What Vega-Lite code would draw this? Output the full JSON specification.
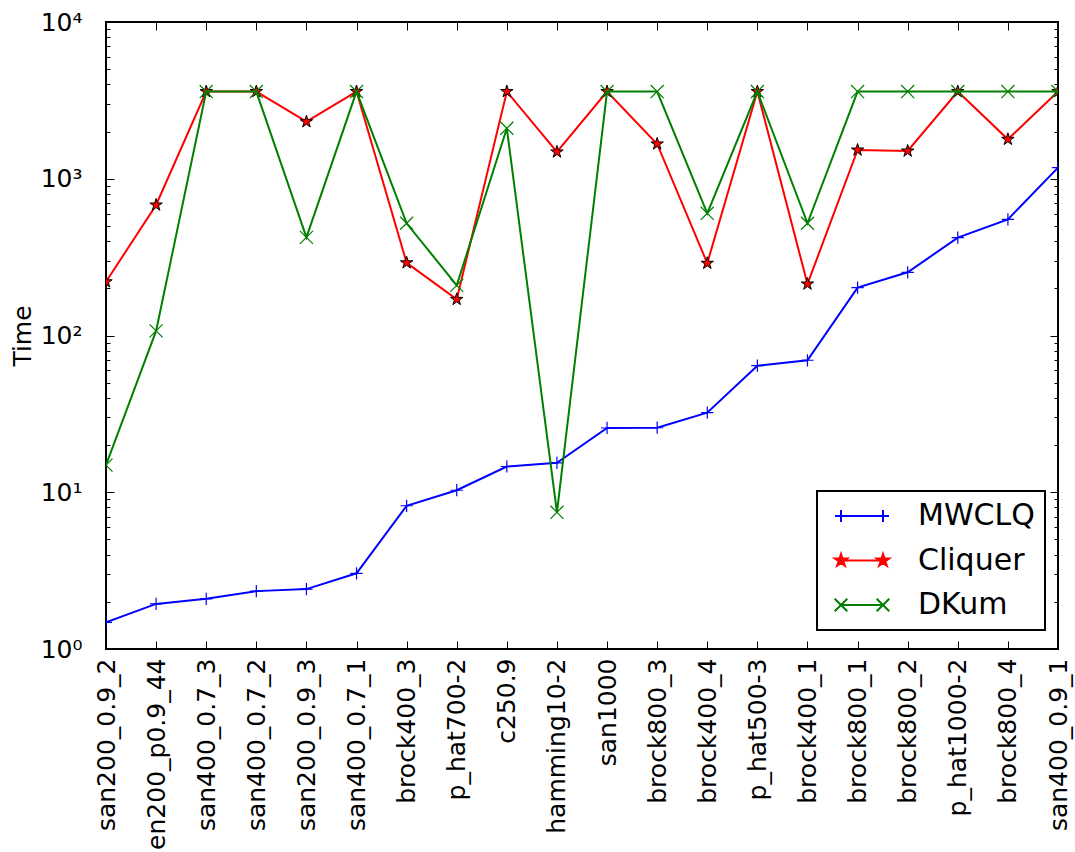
{
  "$schema": "https://vega.github.io/schema/vega-lite/v6.json",
  "autosize": "none",
  "width": 952,
  "height": 627,
  "padding": {"left": 106, "top": 22, "right": 17, "bottom": 203},
  "background": "white",
  "config": {
    "font": "DejaVu Sans",
    "view": {"stroke": "#000000", "strokeWidth": 2},
    "legend": {"strokeWidth": 2},
    "axis": {"domain": false, "grid": false, "tickColor": "#000000", "tickWidth": 1, "labelColor": "#000000", "labelFont": "DejaVu Sans", "titleFont": "DejaVu Sans", "titleColor": "#000000", "titleFontWeight": "normal"}
  },
  "datasets": {
    "times": [
      {"instance": "san200_0.9_2", "series": "MWCLQ", "time": 1.48},
      {"instance": "gen200_p0.9_44", "series": "MWCLQ", "time": 1.94},
      {"instance": "san400_0.7_3", "series": "MWCLQ", "time": 2.09},
      {"instance": "san400_0.7_2", "series": "MWCLQ", "time": 2.34},
      {"instance": "san200_0.9_3", "series": "MWCLQ", "time": 2.41},
      {"instance": "san400_0.7_1", "series": "MWCLQ", "time": 3.04},
      {"instance": "brock400_3", "series": "MWCLQ", "time": 8.2},
      {"instance": "p_hat700-2", "series": "MWCLQ", "time": 10.3},
      {"instance": "c250.9", "series": "MWCLQ", "time": 14.6},
      {"instance": "hamming10-2", "series": "MWCLQ", "time": 15.4},
      {"instance": "san1000", "series": "MWCLQ", "time": 25.7},
      {"instance": "brock800_3", "series": "MWCLQ", "time": 25.8},
      {"instance": "brock400_4", "series": "MWCLQ", "time": 32.2},
      {"instance": "p_hat500-3", "series": "MWCLQ", "time": 64.2},
      {"instance": "brock400_1", "series": "MWCLQ", "time": 69.5},
      {"instance": "brock800_1", "series": "MWCLQ", "time": 202},
      {"instance": "brock800_2", "series": "MWCLQ", "time": 253},
      {"instance": "p_hat1000-2", "series": "MWCLQ", "time": 421},
      {"instance": "brock800_4", "series": "MWCLQ", "time": 551},
      {"instance": "san400_0.9_1", "series": "MWCLQ", "time": 1177},
      {"instance": "san200_0.9_2", "series": "Cliquer", "time": 220},
      {"instance": "gen200_p0.9_44", "series": "Cliquer", "time": 680},
      {"instance": "san400_0.7_3", "series": "Cliquer", "time": 3600},
      {"instance": "san400_0.7_2", "series": "Cliquer", "time": 3600},
      {"instance": "san200_0.9_3", "series": "Cliquer", "time": 2312},
      {"instance": "san400_0.7_1", "series": "Cliquer", "time": 3600},
      {"instance": "brock400_3", "series": "Cliquer", "time": 291},
      {"instance": "p_hat700-2", "series": "Cliquer", "time": 170},
      {"instance": "c250.9", "series": "Cliquer", "time": 3600},
      {"instance": "hamming10-2", "series": "Cliquer", "time": 1482},
      {"instance": "san1000", "series": "Cliquer", "time": 3600},
      {"instance": "brock800_3", "series": "Cliquer", "time": 1667},
      {"instance": "brock400_4", "series": "Cliquer", "time": 289},
      {"instance": "p_hat500-3", "series": "Cliquer", "time": 3600},
      {"instance": "brock400_1", "series": "Cliquer", "time": 213},
      {"instance": "brock800_1", "series": "Cliquer", "time": 1525},
      {"instance": "brock800_2", "series": "Cliquer", "time": 1503},
      {"instance": "p_hat1000-2", "series": "Cliquer", "time": 3600},
      {"instance": "brock800_4", "series": "Cliquer", "time": 1785},
      {"instance": "san400_0.9_1", "series": "Cliquer", "time": 3600},
      {"instance": "san200_0.9_2", "series": "DKum", "time": 14.9},
      {"instance": "gen200_p0.9_44", "series": "DKum", "time": 107},
      {"instance": "san400_0.7_3", "series": "DKum", "time": 3600},
      {"instance": "san400_0.7_2", "series": "DKum", "time": 3600},
      {"instance": "san200_0.9_3", "series": "DKum", "time": 423},
      {"instance": "san400_0.7_1", "series": "DKum", "time": 3600},
      {"instance": "brock400_3", "series": "DKum", "time": 520},
      {"instance": "p_hat700-2", "series": "DKum", "time": 209},
      {"instance": "c250.9", "series": "DKum", "time": 2099},
      {"instance": "hamming10-2", "series": "DKum", "time": 7.45},
      {"instance": "san1000", "series": "DKum", "time": 3600},
      {"instance": "brock800_3", "series": "DKum", "time": 3600},
      {"instance": "brock400_4", "series": "DKum", "time": 602},
      {"instance": "p_hat500-3", "series": "DKum", "time": 3600},
      {"instance": "brock400_1", "series": "DKum", "time": 520},
      {"instance": "brock800_1", "series": "DKum", "time": 3600},
      {"instance": "brock800_2", "series": "DKum", "time": 3600},
      {"instance": "p_hat1000-2", "series": "DKum", "time": 3600},
      {"instance": "brock800_4", "series": "DKum", "time": 3600},
      {"instance": "san400_0.9_1", "series": "DKum", "time": 3600}
    ]
  },
  "data": {"name": "times"},
  "resolve": {"axis": {"x": "independent", "y": "independent"}},
  "layer": [
    {
      "transform": [{"filter": "datum.series === 'MWCLQ'"}],
      "mark": {"type": "line", "strokeWidth": 2, "clip": true},
      "encoding": {
        "x": {"field": "instance", "type": "nominal", "sort": ["san200_0.9_2", "gen200_p0.9_44", "san400_0.7_3", "san400_0.7_2", "san200_0.9_3", "san400_0.7_1", "brock400_3", "p_hat700-2", "c250.9", "hamming10-2", "san1000", "brock800_3", "brock400_4", "p_hat500-3", "brock400_1", "brock800_1", "brock800_2", "p_hat1000-2", "brock800_4", "san400_0.9_1"], "scale": {"type": "point", "padding": 0}, "title": null,
          "axis": {"orient": "bottom", "labelAngle": 270, "labelFontSize": 25, "tickSize": -8, "labelPadding": 17, "labelAlign": "right", "labelBaseline": "middle", "labelOverlap": false, "labelLimit": 0}},
        "y": {"field": "time", "type": "quantitative", "scale": {"type": "log", "domain": [1, 10000], "nice": false}, "title": "Time",
          "axis": {"orient": "left", "values": [1, 10, 100, 1000, 10000], "tickSize": -8, "labelPadding": 32, "labelFontSize": 25, "labelOverlap": false, "labelBound": false, "labelFlush": false,
            "labelExpr": "'10' + (datum.value >= 10000 ? '⁴' : datum.value >= 1000 ? '³' : datum.value >= 100 ? '²' : datum.value >= 10 ? '¹' : '⁰')",
            "titleFontSize": 25, "titleAngle": 270, "titleX": -76, "titleY": 313.5, "titleAlign": "center", "titleBaseline": "alphabetic"}},
        "color": {
          "field": "series", "type": "nominal",
          "scale": {"domain": ["MWCLQ", "Cliquer", "DKum"], "range": ["#0000ff", "#ff0000", "#008000"]},
          "legend": {
            "title": null, "orient": "none", "legendX": 711, "legendY": 469, "zindex": 2,
            "strokeColor": "#000000", "fillColor": "#ffffff", "padding": 10,
            "symbolSize": 784, "symbolStrokeWidth": 2, "symbolOffset": 20,
            "symbolType": {"expr": "datum.value === 'MWCLQ' ? 'M-1.929,0H1.929M-1.5,-0.429V0.429M1.5,-0.429V0.429' : datum.value === 'Cliquer' ? 'M-1.5,0H1.5M-1.5,-0.464L-1.396,-0.143L-1.059,-0.143L-1.332,0.055L-1.227,0.375L-1.5,0.177L-1.773,0.375L-1.668,0.055L-1.941,-0.143L-1.604,-0.143ZM1.5,-0.464L1.604,-0.143L1.941,-0.143L1.668,0.055L1.773,0.375L1.5,0.177L1.227,0.375L1.332,0.055L1.059,-0.143L1.396,-0.143Z' : 'M-1.5,0H1.5M-1.95,-0.45L-1.05,0.45M-1.95,0.45L-1.05,-0.45M1.05,-0.45L1.95,0.45M1.05,0.45L1.95,-0.45'"},
            "symbolFillColor": {"expr": "datum.value === 'Cliquer' ? '#ff0000' : 'transparent'"},
            "labelFontSize": 30, "labelFont": "DejaVu Sans", "labelColor": "#000000", "labelOffset": 41, "rowPadding": 14.5
          }
        }
      }
    },
    {
      "transform": [{"filter": "datum.series === 'MWCLQ'"}],
      "mark": {"type": "point", "shape": "M-1,0H1M0,-1V1", "size": 150, "fill": "transparent", "stroke": "#0000ff", "strokeWidth": 1.2, "opacity": 1, "clip": true},
      "encoding": {
        "x": {"field": "instance", "type": "nominal", "sort": ["san200_0.9_2", "gen200_p0.9_44", "san400_0.7_3", "san400_0.7_2", "san200_0.9_3", "san400_0.7_1", "brock400_3", "p_hat700-2", "c250.9", "hamming10-2", "san1000", "brock800_3", "brock400_4", "p_hat500-3", "brock400_1", "brock800_1", "brock800_2", "p_hat1000-2", "brock800_4", "san400_0.9_1"], "scale": {"type": "point", "padding": 0}, "title": null, "axis": null},
        "y": {"field": "time", "type": "quantitative", "scale": {"type": "log", "domain": [1, 10000], "nice": false}, "title": null, "axis": null}
      }
    },
    {
      "transform": [{"filter": "datum.series === 'Cliquer'"}],
      "mark": {"type": "line", "strokeWidth": 2, "clip": true},
      "encoding": {
        "x": {"field": "instance", "type": "nominal", "sort": ["san200_0.9_2", "gen200_p0.9_44", "san400_0.7_3", "san400_0.7_2", "san200_0.9_3", "san400_0.7_1", "brock400_3", "p_hat700-2", "c250.9", "hamming10-2", "san1000", "brock800_3", "brock400_4", "p_hat500-3", "brock400_1", "brock800_1", "brock800_2", "p_hat1000-2", "brock800_4", "san400_0.9_1"], "scale": {"type": "point", "padding": 0}, "title": null,
          "axis": {"orient": "top", "labels": false, "tickSize": -8, "title": null}},
        "y": {"field": "time", "type": "quantitative", "scale": {"type": "log", "domain": [1, 10000], "nice": false}, "title": null,
          "axis": {"orient": "right", "values": [1, 10, 100, 1000, 10000], "labels": false, "tickSize": -8, "title": null}},
        "color": {"field": "series", "type": "nominal", "scale": {"domain": ["MWCLQ", "Cliquer", "DKum"], "range": ["#0000ff", "#ff0000", "#008000"]}}
      }
    },
    {
      "transform": [{"filter": "datum.series === 'Cliquer'"}],
      "mark": {"type": "point", "shape": "M0,-1L0.225,-0.309L0.951,-0.309L0.363,0.118L0.588,0.809L0,0.382L-0.588,0.809L-0.363,0.118L-0.951,-0.309L-0.225,-0.309Z", "size": 170, "fill": "#ff0000", "stroke": "#000000", "strokeWidth": 1, "opacity": 1, "filled": true, "clip": true},
      "encoding": {
        "x": {"field": "instance", "type": "nominal", "sort": ["san200_0.9_2", "gen200_p0.9_44", "san400_0.7_3", "san400_0.7_2", "san200_0.9_3", "san400_0.7_1", "brock400_3", "p_hat700-2", "c250.9", "hamming10-2", "san1000", "brock800_3", "brock400_4", "p_hat500-3", "brock400_1", "brock800_1", "brock800_2", "p_hat1000-2", "brock800_4", "san400_0.9_1"], "scale": {"type": "point", "padding": 0}, "title": null, "axis": null},
        "y": {"field": "time", "type": "quantitative", "scale": {"type": "log", "domain": [1, 10000], "nice": false}, "title": null, "axis": null}
      }
    },
    {
      "transform": [{"filter": "datum.series === 'DKum'"}],
      "mark": {"type": "line", "strokeWidth": 2, "clip": true},
      "encoding": {
        "x": {"field": "instance", "type": "nominal", "sort": ["san200_0.9_2", "gen200_p0.9_44", "san400_0.7_3", "san400_0.7_2", "san200_0.9_3", "san400_0.7_1", "brock400_3", "p_hat700-2", "c250.9", "hamming10-2", "san1000", "brock800_3", "brock400_4", "p_hat500-3", "brock400_1", "brock800_1", "brock800_2", "p_hat1000-2", "brock800_4", "san400_0.9_1"], "scale": {"type": "point", "padding": 0}, "title": null, "axis": null},
        "y": {"field": "time", "type": "quantitative", "scale": {"type": "log", "domain": [1, 10000], "nice": false}, "title": null,
          "axis": {"orient": "left", "values": [2, 3, 4, 5, 6, 7, 8, 9, 20, 30, 40, 50, 60, 70, 80, 90, 200, 300, 400, 500, 600, 700, 800, 900, 2000, 3000, 4000, 5000, 6000, 7000, 8000, 9000], "labels": false, "tickSize": -4, "title": null}},
        "color": {"field": "series", "type": "nominal", "scale": {"domain": ["MWCLQ", "Cliquer", "DKum"], "range": ["#0000ff", "#ff0000", "#008000"]}}
      }
    },
    {
      "transform": [{"filter": "datum.series === 'DKum'"}],
      "mark": {"type": "point", "shape": "M-1,-1L1,1M-1,1L1,-1", "size": 170, "fill": "transparent", "stroke": "#008000", "strokeWidth": 1.2, "opacity": 1, "clip": true},
      "encoding": {
        "x": {"field": "instance", "type": "nominal", "sort": ["san200_0.9_2", "gen200_p0.9_44", "san400_0.7_3", "san400_0.7_2", "san200_0.9_3", "san400_0.7_1", "brock400_3", "p_hat700-2", "c250.9", "hamming10-2", "san1000", "brock800_3", "brock400_4", "p_hat500-3", "brock400_1", "brock800_1", "brock800_2", "p_hat1000-2", "brock800_4", "san400_0.9_1"], "scale": {"type": "point", "padding": 0}, "title": null, "axis": null},
        "y": {"field": "time", "type": "quantitative", "scale": {"type": "log", "domain": [1, 10000], "nice": false}, "title": null,
          "axis": {"orient": "right", "values": [2, 3, 4, 5, 6, 7, 8, 9, 20, 30, 40, 50, 60, 70, 80, 90, 200, 300, 400, 500, 600, 700, 800, 900, 2000, 3000, 4000, 5000, 6000, 7000, 8000, 9000], "labels": false, "tickSize": -4, "title": null}}
      }
    }
  ]
}
